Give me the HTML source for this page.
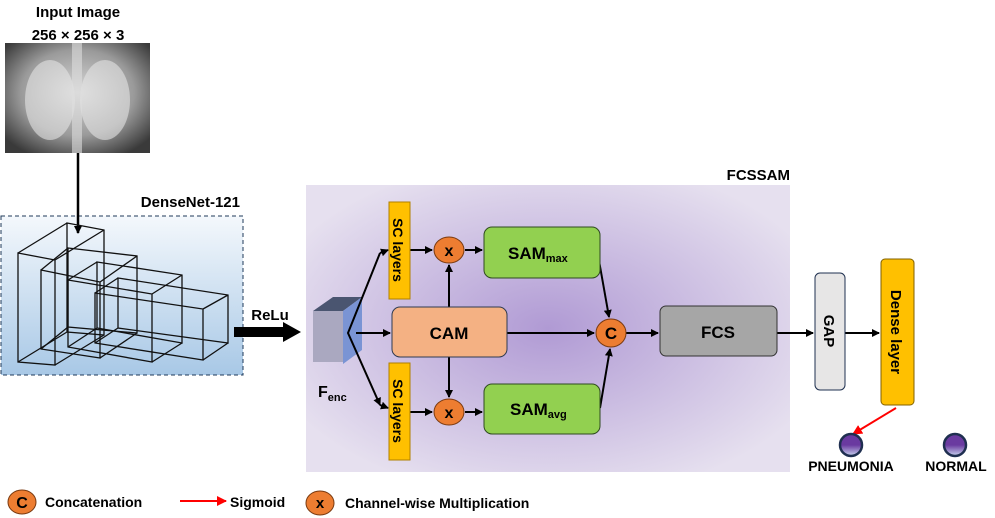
<!DOCTYPE html>
<html><head><style>body{margin:0;background:#fff}svg{display:block}text{font-family:"Liberation Sans",sans-serif;font-weight:bold}</style></head><body>
<svg width="995" height="518" viewBox="0 0 995 518" xmlns="http://www.w3.org/2000/svg">
<defs>
<marker id="a" markerWidth="8" markerHeight="8" refX="7" refY="4" orient="auto" markerUnits="userSpaceOnUse"><path d="M0,0 L8,4 L0,8 z" fill="#000"/></marker>
<marker id="r" markerWidth="10" markerHeight="10" refX="9" refY="5" orient="auto" markerUnits="userSpaceOnUse"><path d="M0,0 L10,5 L0,10 z" fill="#f00"/></marker>
<linearGradient id="dn" x1="0" y1="0" x2="0" y2="1"><stop offset="0" stop-color="#f4f8fc"/><stop offset="1" stop-color="#a8c8e6"/></linearGradient>
<radialGradient id="pp" cx="0.5" cy="0.5" r="0.6"><stop offset="0" stop-color="#b09ad4"/><stop offset="1" stop-color="#e6e0ef"/></radialGradient>
<radialGradient id="xr" cx="0.5" cy="0.45" r="0.65"><stop offset="0" stop-color="#d8d8d8"/><stop offset="0.6" stop-color="#9a9a9a"/><stop offset="1" stop-color="#3a3a3a"/></radialGradient>
<linearGradient id="bl" x1="0" y1="0" x2="0" y2="1"><stop offset="0.5" stop-color="#6a3aa0"/><stop offset="1" stop-color="#c8d4f0"/></linearGradient>
</defs>
<text x="78" y="17" font-size="15" text-anchor="middle">Input Image</text>
<text x="78" y="40" font-size="15" text-anchor="middle">256 × 256 × 3</text>
<rect x="5" y="43" width="145" height="110" fill="url(#xr)"/>
<ellipse cx="50" cy="100" rx="25" ry="40" fill="#e4e4e4" opacity="0.6"/>
<ellipse cx="105" cy="100" rx="25" ry="40" fill="#e4e4e4" opacity="0.6"/>
<rect x="72" y="43" width="10" height="110" fill="#ddd" opacity="0.6"/>
<rect x="1" y="216" width="242" height="159" fill="url(#dn)" stroke="#1f3a5a" stroke-dasharray="4,3"/>
<line x1="78" y1="153" x2="78" y2="233" stroke="#000" stroke-width="2.5" marker-end="url(#a)"/>
<text x="240" y="207" font-size="15" text-anchor="end">DenseNet-121</text>
<g fill="none" stroke="#111" stroke-width="1.3">
<path d="M18,253 L55,260 L55,365 L18,362 Z M67,223 L104,230 L104,335 L67,332 Z M18,253 L67,223 M55,260 L104,230 M55,365 L104,335 M18,362 L67,332"/>
<path d="M41,270 L100,282 L100,358 L41,349 Z M68,248 L137,256 L137,333 L68,327 Z M41,270 L68,248 M100,282 L137,256 M100,358 L137,333 M41,349 L68,327"/>
<path d="M68,280 L152,294 L152,362 L68,347 Z M97,262 L182,275 L182,343 L97,328 Z M68,280 L97,262 M152,294 L182,275 M152,362 L182,343 M68,347 L97,328"/>
<path d="M95,293 L203,309 L203,360 L95,343 Z M118,278 L228,295 L228,343 L118,328 Z M95,293 L118,278 M203,309 L228,295 M203,360 L228,343 M95,343 L118,328"/>
</g>
<rect x="234" y="327" width="50" height="10" fill="#000"/><path d="M283,322 L301,332 L283,342 Z" fill="#000"/>
<text x="270" y="320" font-size="15" text-anchor="middle">ReLu</text>
<rect x="306" y="185" width="484" height="287" fill="url(#pp)"/>
<text x="790" y="180" font-size="15" text-anchor="end">FCSSAM</text>
<path d="M313,311 L333,297 L362,297 L343,311 Z" fill="#4a5570"/>
<rect x="313" y="311" width="30" height="51" fill="#aaa8c0"/>
<path d="M343,311 L362,297 L362,350 L343,364 Z" fill="#7a94d4"/>
<text x="318" y="397" font-size="16">F<tspan font-size="11" dy="4">enc</tspan></text>
<g stroke="#000" stroke-width="2" fill="none">
<path d="M380,253 L348,333 L380,405" marker-end="url(#a)"/>
<line x1="380" y1="253" x2="388" y2="250" marker-end="url(#a)"/>
<line x1="380" y1="405" x2="388" y2="408" marker-end="url(#a)"/>
<line x1="356" y1="333" x2="390" y2="333" marker-end="url(#a)"/>
<line x1="410" y1="250" x2="432" y2="250" marker-end="url(#a)"/>
<line x1="410" y1="412" x2="432" y2="412" marker-end="url(#a)"/>
<line x1="465" y1="250" x2="482" y2="250" marker-end="url(#a)"/>
<line x1="465" y1="412" x2="482" y2="412" marker-end="url(#a)"/>
<line x1="449" y1="307" x2="449" y2="265" marker-end="url(#a)"/>
<line x1="449" y1="357" x2="449" y2="397" marker-end="url(#a)"/>
<line x1="507" y1="333" x2="594" y2="333" marker-end="url(#a)"/>
<line x1="598" y1="255" x2="609" y2="317" marker-end="url(#a)"/>
<line x1="600" y1="408" x2="610" y2="349" marker-end="url(#a)"/>
<line x1="626" y1="333" x2="658" y2="333" marker-end="url(#a)"/>
<line x1="777" y1="333" x2="813" y2="333" marker-end="url(#a)"/>
<line x1="845" y1="333" x2="879" y2="333" marker-end="url(#a)"/>
</g>
<rect x="389" y="202" width="21" height="97" fill="#ffc000" stroke="#b08000"/>
<rect x="389" y="363" width="21" height="97" fill="#ffc000" stroke="#b08000"/>
<text transform="translate(393,250) rotate(90)" font-size="14" text-anchor="middle">SC layers</text>
<text transform="translate(393,411) rotate(90)" font-size="14" text-anchor="middle">SC layers</text>
<g fill="#ed7d31" stroke="#7a3a10"><ellipse cx="449" cy="250" rx="15" ry="13"/><ellipse cx="449" cy="412" rx="15" ry="13"/><ellipse cx="611" cy="333" rx="15" ry="14"/></g>
<text x="449" y="256" font-size="16" text-anchor="middle">x</text>
<text x="449" y="418" font-size="16" text-anchor="middle">x</text>
<text x="611" y="339" font-size="17" text-anchor="middle">C</text>
<rect x="484" y="227" width="116" height="51" rx="8" fill="#92d050" stroke="#2f4a20"/>
<rect x="484" y="384" width="116" height="50" rx="8" fill="#92d050" stroke="#2f4a20"/>
<text x="508" y="259" font-size="17">SAM<tspan font-size="11" dy="3">max</tspan></text>
<text x="510" y="415" font-size="17">SAM<tspan font-size="11" dy="3">avg</tspan></text>
<rect x="392" y="307" width="115" height="50" rx="8" fill="#f4b183" stroke="#2f3a50"/>
<text x="449" y="339" font-size="17" text-anchor="middle">CAM</text>
<rect x="660" y="306" width="117" height="50" rx="6" fill="#a6a6a6" stroke="#333"/>
<text x="718" y="338" font-size="17" text-anchor="middle">FCS</text>
<rect x="815" y="273" width="30" height="117" rx="5" fill="#e7e6e6" stroke="#1f3050"/>
<text transform="translate(824,331) rotate(90)" font-size="15" text-anchor="middle">GAP</text>
<rect x="881" y="259" width="33" height="146" rx="4" fill="#ffc000" stroke="#806000"/>
<text transform="translate(891,332) rotate(90)" font-size="15" text-anchor="middle">Dense layer</text>
<line x1="896" y1="408" x2="853" y2="434" stroke="#f00" stroke-width="2" marker-end="url(#r)"/>
<circle cx="851" cy="445" r="11" fill="url(#bl)" stroke="#1f2f50" stroke-width="2.5"/>
<circle cx="955" cy="445" r="11" fill="url(#bl)" stroke="#1f2f50" stroke-width="2.5"/>
<text x="851" y="471" font-size="14" text-anchor="middle">PNEUMONIA</text>
<text x="956" y="471" font-size="14" text-anchor="middle">NORMAL</text>
<ellipse cx="22" cy="502" rx="14" ry="12" fill="#ed7d31" stroke="#7a3a10"/>
<text x="22" y="508" font-size="16" text-anchor="middle">C</text>
<text x="45" y="507" font-size="14">Concatenation</text>
<line x1="180" y1="501" x2="226" y2="501" stroke="#f00" stroke-width="2" marker-end="url(#r)"/>
<text x="230" y="507" font-size="14">Sigmoid</text>
<ellipse cx="320" cy="503" rx="14" ry="12" fill="#ed7d31" stroke="#7a3a10"/>
<text x="320" y="508" font-size="15" text-anchor="middle">x</text>
<text x="345" y="508" font-size="14">Channel-wise Multiplication</text>
</svg>
</body></html>
